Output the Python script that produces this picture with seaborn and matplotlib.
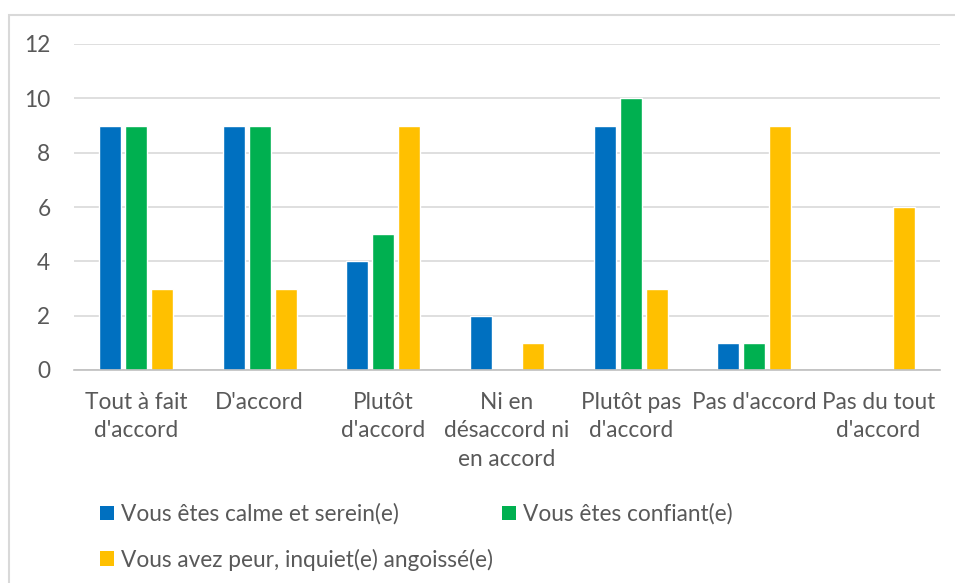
"""Grouped bar chart: ressenti des répondants (style Excel)."""

import matplotlib
matplotlib.use("Agg")
import matplotlib.pyplot as plt
from matplotlib.patches import Rectangle, Patch
import pandas as pd
import seaborn as sns

categories = [
    "Tout à fait\nd'accord",
    "D'accord",
    "Plutôt\nd'accord",
    "Ni en\ndésaccord ni\nen accord",
    "Plutôt pas\nd'accord",
    "Pas d'accord",
    "Pas du tout\nd'accord",
]
series_names = [
    "Vous êtes calme et serein(e)",
    "Vous êtes confiant(e)",
    "Vous avez peur, inquiet(e) angoissé(e)",
]
calme = [9, 9, 4, 2, 9, 1, 0]
confiant = [9, 9, 5, 0, 10, 1, 0]
peur = [3, 3, 9, 1, 3, 9, 6]
y_ticks = [0, 2, 4, 6, 8, 10, 12]

COLORS = ["#0070C0", "#00B050", "#FFC000"]
TEXT = "#595959"
FS = 16.3

sns.set_theme(style="white")
plt.rcParams["font.family"] = ["Lato", "DejaVu Sans"]

rows = []
for name, vals in zip(series_names, [calme, confiant, peur]):
    for cat, v in zip(categories, vals):
        rows.append({"categorie": cat, "valeur": v, "serie": name})
df = pd.DataFrame(rows)

fig = plt.figure(figsize=(9.55, 5.83), dpi=100)
ax = fig.add_axes([74 / 955, 1 - 370 / 583, (940 - 74) / 955, (370 - 44) / 583])

sns.barplot(
    data=df, x="categorie", y="valeur", hue="serie",
    order=categories, hue_order=series_names, palette=COLORS,
    width=0.63, gap=0.15, saturation=1, legend=False, ax=ax,
)

ax.set_ylim(0, 12)
ax.set_yticks(y_ticks)
ax.set_xlim(-0.5, len(categories) - 0.5)
ax.set_xlabel("")
ax.set_ylabel("")
ax.yaxis.grid(True, color="#D9D9D9", linewidth=1.2)
ax.set_axisbelow(True)
for side in ["top", "right", "left"]:
    ax.spines[side].set_visible(False)
ax.spines["bottom"].set_color("#BFBFBF")
ax.spines["bottom"].set_linewidth(1.2)
ax.tick_params(axis="y", length=0, pad=17, labelsize=FS, labelcolor=TEXT)
ax.tick_params(axis="x", length=0, pad=16, labelsize=FS, labelcolor=TEXT)
for lbl in ax.get_xticklabels():
    lbl.set_linespacing(1.42)

# legend: row 1 = calme, confiant ; row 2 = peur
handles = [Patch(facecolor=c, edgecolor="none") for c in COLORS]
order = [0, 2, 1]
fig.legend(
    [handles[i] for i in order], [series_names[i] for i in order],
    ncol=2, loc="upper left", bbox_to_anchor=(89 / 955, 1 - 492 / 583),
    frameon=False, fontsize=FS, labelcolor=TEXT,
    handlelength=0.62, handleheight=0.62, handletextpad=0.3,
    columnspacing=0.4, labelspacing=1.05, borderpad=0,
)

# chart-area border like the Excel frame
fig.patches.append(Rectangle(
    (9 / 955, -0.2), 1.2, (583 - 15) / 583 + 0.2, transform=fig.transFigure,
    fill=False, edgecolor="#D9D9D9", linewidth=1.5,
))

fig.savefig("out.png", dpi=100)
